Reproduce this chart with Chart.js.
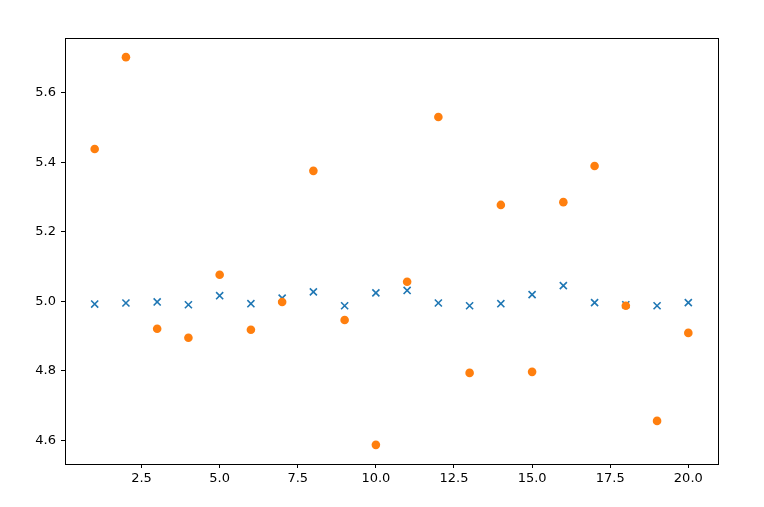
<!DOCTYPE html>
<html>
<head>
<meta charset="utf-8">
<script src="https://cdn.jsdelivr.net/npm/chart.js@4/dist/chart.umd.min.js"></script>
<style>
  html, body { margin: 0; padding: 0; background: #fff; }
  canvas { display: block; }
</style>
</head>
<body>
<canvas id="scatterChart" width="764" height="507"></canvas>
<script>
// chart data
const xValues = [1, 2, 3, 4, 5, 6, 7, 8, 9, 10, 11, 12, 13, 14, 15, 16, 17, 18, 19, 20];
const crossValues = [4.992, 4.995, 4.998, 4.990, 5.016, 4.993, 5.009, 5.027, 4.987, 5.024,
                     5.031, 4.995, 4.987, 4.993, 5.019, 5.045, 4.996, 4.990, 4.987, 4.996];
const dotValues = [5.438, 5.702, 4.921, 4.895, 5.076, 4.918, 4.998, 5.375, 4.946, 4.587,
                   5.056, 5.530, 4.794, 5.277, 4.797, 5.285, 5.389, 4.987, 4.656, 4.909];
const xTicks = [2.5, 5.0, 7.5, 10.0, 12.5, 15.0, 17.5, 20.0];
const yTicks = [4.6, 4.8, 5.0, 5.2, 5.4, 5.6];

function toPoints(ys) {
  return xValues.map((x, i) => ({ x: x, y: ys[i] }));
}

// box around the plot area like matplotlib spines
const frame = {
  id: 'frame',
  afterDraw(chart) {
    const a = chart.chartArea;
    const c = chart.ctx;
    c.save();
    c.strokeStyle = '#000';
    c.lineWidth = 1;
    c.strokeRect(Math.round(a.left) + 0.5, Math.round(a.top) + 0.5,
                 Math.round(a.right - a.left), Math.round(a.bottom - a.top));
    c.restore();
  }
};

window.addEventListener('load', () => {
  const ctx = document.getElementById('scatterChart').getContext('2d');
  new Chart(ctx, {
    type: 'scatter',
    data: {
      datasets: [{
        label: 'x',
        data: toPoints(crossValues),
        pointStyle: 'crossRot',
        pointRadius: 5,
        pointHoverRadius: 5,
        borderWidth: 1.6,
        borderColor: '#1f77b4',
        backgroundColor: '#1f77b4',
        order: 1
      }, {
        label: 'o',
        data: toPoints(dotValues),
        pointStyle: 'circle',
        pointRadius: 4.3,
        pointHoverRadius: 4.3,
        borderWidth: 0,
        borderColor: '#ff7f0e',
        backgroundColor: '#ff7f0e',
        order: 0
      }]
    },
    options: {
      responsive: false,
      devicePixelRatio: 1,
      animation: false,
      layout: { padding: { left: 0, right: 46, top: 38, bottom: 0 } },
      plugins: { legend: { display: false }, tooltip: { enabled: false } },
      scales: {
        x: {
          type: 'linear',
          min: 0.05,
          max: 20.95,
          afterBuildTicks: axis => { axis.ticks = xTicks.map(v => ({ value: v })); },
          afterFit: axis => { axis.height = 43; },
          grid: { drawOnChartArea: false, drawTicks: true, tickLength: 4, color: '#000' },
          border: { display: true, color: '#000' },
          ticks: {
            color: '#000',
            padding: 3,
            maxRotation: 0,
            font: { family: 'DejaVu Sans', size: 13 },
            callback: v => Number(v).toFixed(1)
          }
        },
        y: {
          type: 'linear',
          min: 4.532,
          max: 5.757,
          afterBuildTicks: axis => { axis.ticks = yTicks.map(v => ({ value: v })); },
          afterFit: axis => { axis.width = 65; },
          grid: { drawOnChartArea: false, drawTicks: true, tickLength: 4, color: '#000' },
          border: { display: true, color: '#000' },
          ticks: {
            color: '#000',
            padding: 5,
            font: { family: 'DejaVu Sans', size: 13 },
            callback: v => Number(v).toFixed(1)
          }
        }
      }
    },
    plugins: [frame]
  });
});
</script>
</body>
</html>
